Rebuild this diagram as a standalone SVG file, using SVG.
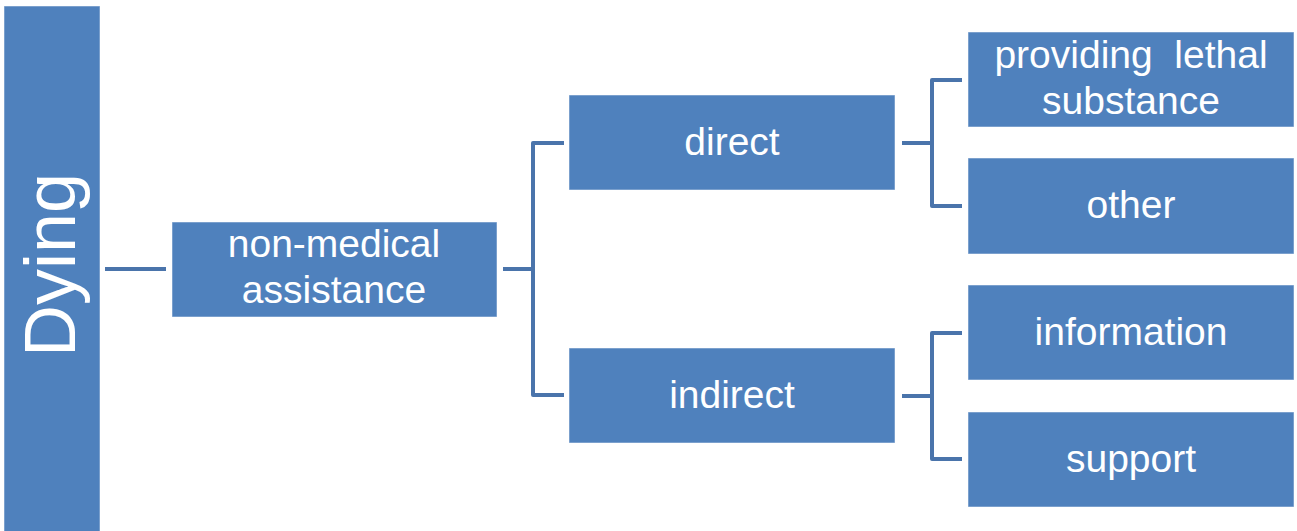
<svg xmlns="http://www.w3.org/2000/svg" width="1297" height="531" viewBox="0 0 1297 531">
<style>
.box{fill:#4F81BD;stroke:#ffffff;stroke-width:1;stroke-opacity:0.5}
.t{fill:#ffffff;font-family:"Liberation Sans",Arial,sans-serif;font-size:39px;text-anchor:middle}
.c{fill:none;stroke:#4A74AB;stroke-width:4;stroke-linejoin:round}
</style>
<rect width="1297" height="531" fill="#ffffff"/>
<g id="connectors">
<path class="c" d="M105 269H166"/>
<path class="c" d="M503 269H533M564 143H533V395H564"/>
<path class="c" d="M902 143H932M962 80H932V206H962"/>
<path class="c" d="M902 396H932M962 333H932V459H962"/>
</g>
<g id="dying"><rect class="box" x="4" y="6" width="96" height="526"/><text class="t" style="font-size:72px" x="75" y="265" transform="rotate(-90 75 265)">Dying</text></g>
<g id="nonmed"><rect class="box" x="172" y="222" width="325" height="95"/><text class="t" x="334" y="257">non-medical</text><text class="t" x="334" y="303">assistance</text></g>
<g id="direct"><rect class="box" x="569" y="95" width="326" height="95"/><text class="t" x="732" y="155">direct</text></g>
<g id="indirect"><rect class="box" x="569" y="348" width="326" height="95"/><text class="t" x="732" y="408">indirect</text></g>
<g id="lethal"><rect class="box" x="968" y="32" width="326" height="95"/><text class="t" x="1131" y="68" xml:space="preserve">providing  lethal</text><text class="t" x="1131" y="114">substance</text></g>
<g id="other"><rect class="box" x="968" y="158" width="326" height="96"/><text class="t" x="1131" y="218">other</text></g>
<g id="information"><rect class="box" x="968" y="285" width="326" height="95"/><text class="t" x="1131" y="345">information</text></g>
<g id="support"><rect class="box" x="968" y="412" width="326" height="95"/><text class="t" x="1131" y="472">support</text></g>
</svg>
